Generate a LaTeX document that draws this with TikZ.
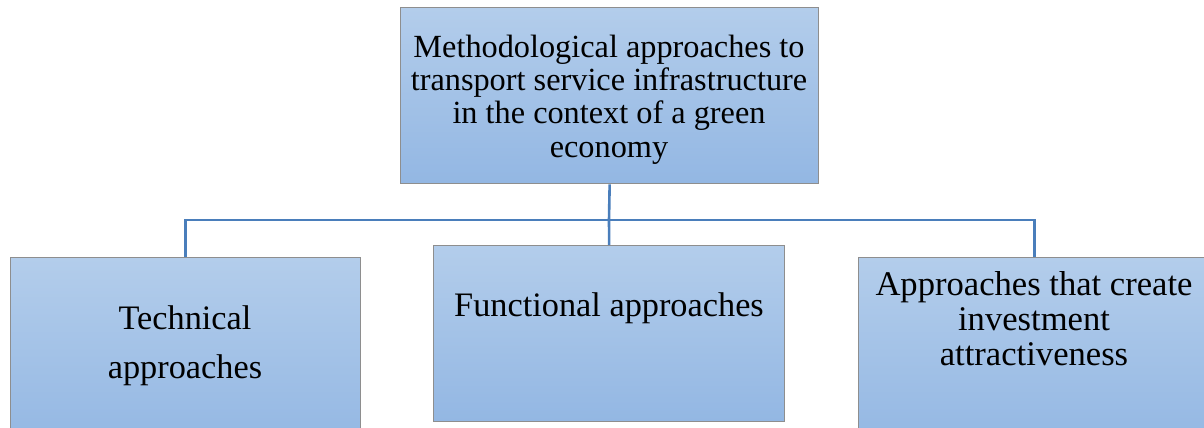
\documentclass[tikz,border=0pt]{standalone}
\usepackage{fontspec}
\setmainfont{Liberation Serif}
\definecolor{boxtop}{HTML}{B3CDEB}
\definecolor{boxbot}{HTML}{93B7E3}
\definecolor{boxline}{HTML}{8E8E8E}
\definecolor{linkblue}{HTML}{4A7EBB}
\begin{document}
\begin{tikzpicture}[x=1pt,y=-1pt,
  box/.style={draw=boxline, line width=1.3pt, top color=boxtop, bottom color=boxbot,
    rectangle, inner sep=0pt, anchor=north west},
  txt/.style={align=center, inner sep=0pt, text=black},
  link/.style={draw=linkblue, line width=2.6pt}]
\useasboundingbox (0,0) rectangle (1204,428);
% boxes
\node[box, minimum width=418pt, minimum height=176pt] (top) at (400,7) {};
\node[box, minimum width=350pt, minimum height=190pt] (left) at (10,257) {};
\node[box, minimum width=351pt, minimum height=176pt] (mid) at (433,245) {};
\node[box, minimum width=352pt, minimum height=190pt] (right) at (858,257) {};
% labels
\node[txt, font=\fontsize{32.3}{33.3}\selectfont] (toptext) at (609,99.5)
  {Methodological approaches to\\transport service infrastructure\\in the context of a green\\economy};
\node[txt, font=\fontsize{34.3}{49}\selectfont] (lefttext) at (185,346) {Technical\\approaches};
\node[txt, font=\fontsize{34.3}{35}\selectfont] (midtext) at (609,308) {Functional approaches};
\node[txt, font=\fontsize{34.6}{35.3}\selectfont] (righttext) at (1034,318.5)
  {Approaches that create\\investment\\attractiveness};
% connectors
\coordinate (bus) at (609,220);
\draw[link] (top.south) -- (bus);
\draw[link] (left.north) |- (bus) -| (right.north);
\draw[link] (bus) -- (mid.north);
\end{tikzpicture}
\end{document}
